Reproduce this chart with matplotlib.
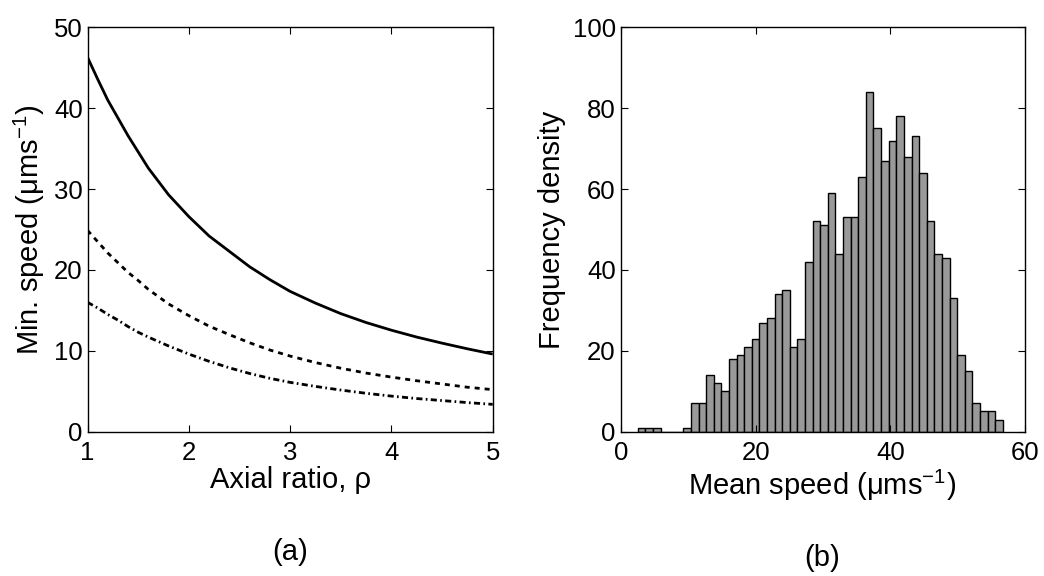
import numpy as np
import matplotlib
matplotlib.use("Agg")
import matplotlib.pyplot as plt

plt.rcParams['font.family'] = ['Liberation Sans', 'DejaVu Sans']
plt.rcParams['mathtext.fontset'] = 'custom'
plt.rcParams['mathtext.rm'] = 'Liberation Sans'
plt.rcParams['mathtext.it'] = 'Liberation Sans:italic'
plt.rcParams['mathtext.bf'] = 'Liberation Sans:bold'

# ---- Panel (a) data ----
rho = [1.0, 1.1, 1.2, 1.3, 1.4, 1.5, 1.6, 1.8, 2.0, 2.2, 2.4, 2.6, 2.8, 3.0,
       3.25, 3.5, 3.75, 4.0, 4.25, 4.5, 4.75, 5.0]
speed_solid = [46.3, 43.6, 41.0, 38.8, 36.6, 34.6, 32.6, 29.3, 26.6, 24.2, 22.3, 20.4,
               18.8, 17.35, 15.9, 14.6, 13.5, 12.55, 11.7, 10.95, 10.25, 9.6]
speed_dashed = [24.9, 23.5, 22.1, 20.9, 19.7, 18.7, 17.6, 15.8, 14.35, 13.05, 12.0, 11.0,
                10.1, 9.35, 8.55, 7.85, 7.25, 6.75, 6.3, 5.9, 5.5, 5.2]
speed_dashdot = [16.0, 15.3, 14.5, 13.8, 13.0, 12.3, 11.7, 10.6, 9.6, 8.7, 7.9, 7.2,
                 6.6, 6.1, 5.6, 5.15, 4.75, 4.4, 4.1, 3.85, 3.6, 3.38]
a_xticks = [1, 2, 3, 4, 5]
a_yticks = [0, 10, 20, 30, 40, 50]

# ---- Panel (b) data ----
bin_start = 2.52
bin_width = 1.128
counts = [1, 1, 1, 0, 0, 0, 1, 7, 7, 14, 12, 10, 18, 19, 21, 23, 27, 28, 34, 35,
          21, 23, 42, 52, 51, 59, 44, 53, 53, 63, 84, 75, 67, 72, 78, 68, 73, 64,
          52, 44, 43, 33, 19, 15, 7, 5, 5, 3]
b_xticks = [0, 20, 40, 60]
b_yticks = [0, 20, 40, 60, 80, 100]

W, H = 1044, 576
fig = plt.figure(figsize=(W / 100, H / 100), dpi=100)

def box(px_left, px_top, px_right, px_bottom):
    return [px_left / W, 1 - px_bottom / H, (px_right - px_left) / W, (px_bottom - px_top) / H]

ax1 = fig.add_axes(box(87.5, 27.3, 492.7, 431.7))
ax2 = fig.add_axes(box(620.7, 27.3, 1025.3, 431.7))

tick_fs = 18.5
label_fs = 21

ax1.plot(rho, speed_solid, color='black', lw=2.0, solid_capstyle='butt')
ax1.plot(rho, speed_dashed, color='black', lw=2.0, linestyle=(0, (1.8, 1.8)))
ax1.plot(rho, speed_dashdot, color='black', lw=2.0, linestyle=(0, (2.2, 1.2, 0.6, 1.2)))
ax1.set_xlim(1, 5)
ax1.set_ylim(0, 50)
ax1.set_xticks(a_xticks)
ax1.set_yticks(a_yticks)

edges = [bin_start + i * bin_width for i in range(len(counts))]
ax2.bar(edges, counts, width=bin_width, align='edge', color='#999999',
        edgecolor='black', linewidth=1.0)
ax2.set_xlim(0, 60)
ax2.set_ylim(0, 100)
ax2.set_xticks(b_xticks)
ax2.set_yticks(b_yticks)

for ax in (ax1, ax2):
    ax.tick_params(direction='in', length=5, width=0.8, top=True, right=True,
                   labelsize=tick_fs)
    ax.tick_params(axis='x', pad=7)
    ax.tick_params(axis='y', pad=3.5)
    for s in ax.spines.values():
        s.set_linewidth(1.0)

# axis labels
fig.text(290 / W, 1 - 479.5 / H, 'Axial ratio, ρ', fontsize=label_fs, ha='center', va='center')
fig.text(822 / W, 1 - 485 / H, 'Mean speed (μms$^{-1}$)', fontsize=label_fs, ha='center', va='center')
fig.text(29 / W, 1 - 229.5 / H, 'Min. speed (μms$^{-1}$)', fontsize=label_fs, ha='center',
         va='center', rotation=90)
fig.text(552 / W, 1 - 229.5 / H, 'Frequency density', fontsize=label_fs, ha='center',
         va='center', rotation=90)

fig.text(290 / W, 1 - 552 / H, '(a)', fontsize=label_fs, ha='center', va='center')
fig.text(822 / W, 1 - 558 / H, '(b)', fontsize=label_fs, ha='center', va='center')

fig.savefig('out.png', dpi=100)
